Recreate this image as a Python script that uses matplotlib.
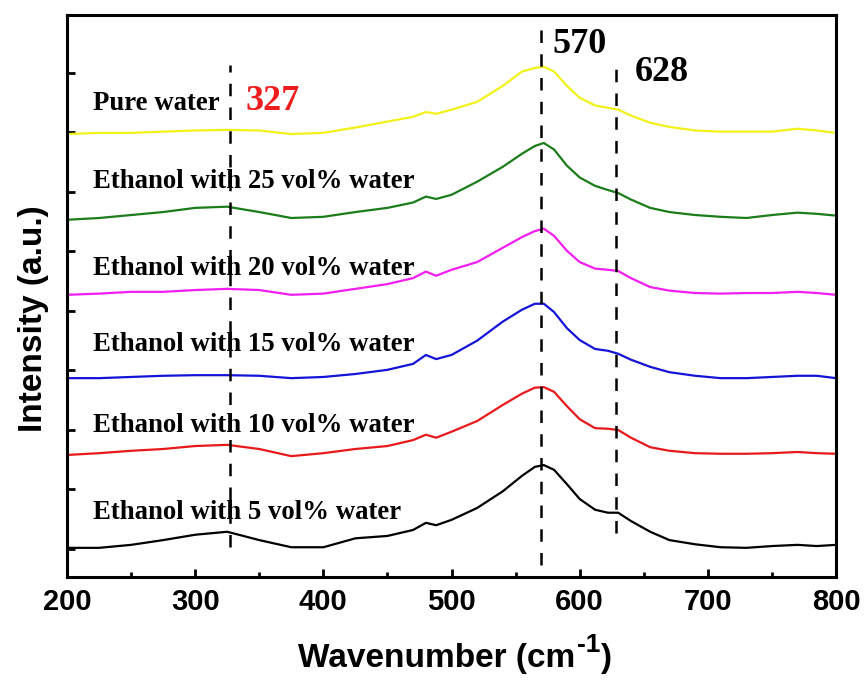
import matplotlib
matplotlib.use('Agg')
import matplotlib.pyplot as plt

# 拉曼光谱数据（从图中读取，纵坐标为带偏移的相对强度）
wavenumber = [200, 225, 250, 275, 300, 325, 350, 375, 400, 425, 450, 470, 480, 488, 500, 520,
              540, 555, 565, 572, 580, 590, 600, 612, 622, 630, 640, 655, 670, 690, 710, 730,
              750, 770, 785, 800]

water_5 = [0.02, 0.02, 0.07, 0.15, 0.24, 0.29, 0.15, 0.03, 0.03, 0.18, 0.22, 0.32, 0.44, 0.40,
           0.49, 0.69, 0.97, 1.23, 1.38, 1.41, 1.33, 1.09, 0.84, 0.66, 0.61, 0.61, 0.47, 0.29,
           0.15, 0.08, 0.03, 0.02, 0.05, 0.07, 0.05, 0.07]
water_10 = [1.58, 1.61, 1.65, 1.68, 1.73, 1.75, 1.68, 1.56, 1.61, 1.68, 1.73, 1.83, 1.92, 1.87,
            1.97, 2.15, 2.42, 2.61, 2.71, 2.72, 2.64, 2.40, 2.18, 2.03, 2.02, 2.00, 1.87, 1.71,
            1.65, 1.61, 1.60, 1.60, 1.61, 1.63, 1.61, 1.60]
water_15 = [2.87, 2.87, 2.89, 2.91, 2.92, 2.92, 2.91, 2.87, 2.89, 2.94, 3.01, 3.11, 3.26, 3.19,
            3.26, 3.50, 3.82, 4.02, 4.12, 4.12, 3.98, 3.71, 3.51, 3.36, 3.33, 3.28, 3.18, 3.06,
            2.97, 2.91, 2.87, 2.87, 2.89, 2.91, 2.91, 2.87]
water_20 = [4.27, 4.29, 4.32, 4.32, 4.35, 4.37, 4.35, 4.27, 4.29, 4.37, 4.45, 4.55, 4.66, 4.59,
            4.69, 4.82, 5.06, 5.24, 5.34, 5.38, 5.26, 5.01, 4.82, 4.71, 4.69, 4.67, 4.55, 4.40,
            4.34, 4.30, 4.29, 4.30, 4.30, 4.32, 4.30, 4.27]
water_25 = [5.53, 5.56, 5.61, 5.66, 5.73, 5.75, 5.66, 5.56, 5.58, 5.66, 5.73, 5.82, 5.92, 5.88,
            5.95, 6.17, 6.42, 6.64, 6.77, 6.82, 6.71, 6.44, 6.24, 6.10, 6.03, 5.98, 5.87, 5.73,
            5.66, 5.61, 5.58, 5.56, 5.61, 5.65, 5.63, 5.60]
pure_water = [6.97, 6.99, 6.99, 7.01, 7.03, 7.04, 7.03, 6.97, 6.99, 7.08, 7.18, 7.26, 7.34, 7.31,
              7.38, 7.51, 7.78, 8.02, 8.08, 8.10, 8.02, 7.78, 7.58, 7.45, 7.41, 7.38, 7.28, 7.16,
              7.09, 7.03, 7.01, 7.01, 7.01, 7.06, 7.03, 6.99]

series = [water_5, water_10, water_15, water_20, water_25, pure_water]
colors = ['black', '#e8191b', '#1414d8', '#f21ef2', '#1a7d1a', '#f2f21a']
labels = ['Ethanol with 5 vol% water', 'Ethanol with 10 vol% water', 'Ethanol with 15 vol% water',
          'Ethanol with 20 vol% water', 'Ethanol with 25 vol% water', 'Pure water']
label_y = [0.62, 2.08, 3.44, 4.72, 6.18, 7.48]

# 特征峰位置
peaks = [327, 570, 628]
peak_y0 = [0.03, -0.27, 0.27]
peak_y1 = [8.13, 8.72, 8.22]

fig = plt.figure(figsize=(8.67, 6.81), dpi=100)
ax = plt.axes([0.0773, 0.1527, 0.887, 0.8253])

for y, c in zip(series, colors):
    ax.plot(wavenumber, y, color=c, lw=1.6)

for p, a, b in zip(peaks, peak_y0, peak_y1):
    ax.plot([p, p], [a, b], color='black', lw=1.8, dashes=(5, 4.5))

serif = dict(family='Liberation Serif', weight='bold')
for t, y in zip(labels, label_y):
    ax.text(220.3, y, t, fontsize=19.3, va='center', ha='left', **serif)
ax.text(338.9, 7.52, '327', fontsize=26, color='#ee1c1c', va='center', ha='left', **serif)
ax.text(578.4, 8.48, '570', fontsize=26, va='center', ha='left', **serif)
ax.text(643.2, 8.01, '628', fontsize=26, va='center', ha='left', **serif)

ax.set_xlim(200, 800)
ax.set_ylim(-0.47, 8.97)
ax.set_xticks(range(200, 801, 100))
ax.set_xticks(range(250, 800, 100), minor=True)
ax.set_yticks(range(0, 9))
ax.set_yticklabels([])
ax.tick_params(which='major', direction='in', length=6, width=2, top=False, right=False)
ax.tick_params(which='minor', direction='in', length=3.5, width=2, top=False, right=False)
ax.tick_params(axis='x', pad=8)
for s in ax.spines.values():
    s.set_linewidth(2.2)

sans = dict(family='Liberation Sans', weight='bold')
for lab in ax.get_xticklabels():
    lab.set_fontsize(21)
    lab.set_fontfamily('Liberation Sans')
    lab.set_fontweight('bold')

# 坐标轴标题（上标"-1"单独放，字号接近正文）
fig.text(575 / 867, 0.021, 'Wavenumber (cm', fontsize=24, ha='right', va='baseline', **sans)
fig.text(577 / 867, 0.042, '-1', fontsize=19, ha='left', va='baseline', **sans)
fig.text(600 / 867, 0.021, ')', fontsize=24, ha='left', va='baseline', **sans)
fig.text(34 / 867, 1 - 319 / 681, 'Intensity (a.u.)', fontsize=24, rotation=90,
         ha='center', va='center', **sans)

plt.savefig('out.png', dpi=100)
